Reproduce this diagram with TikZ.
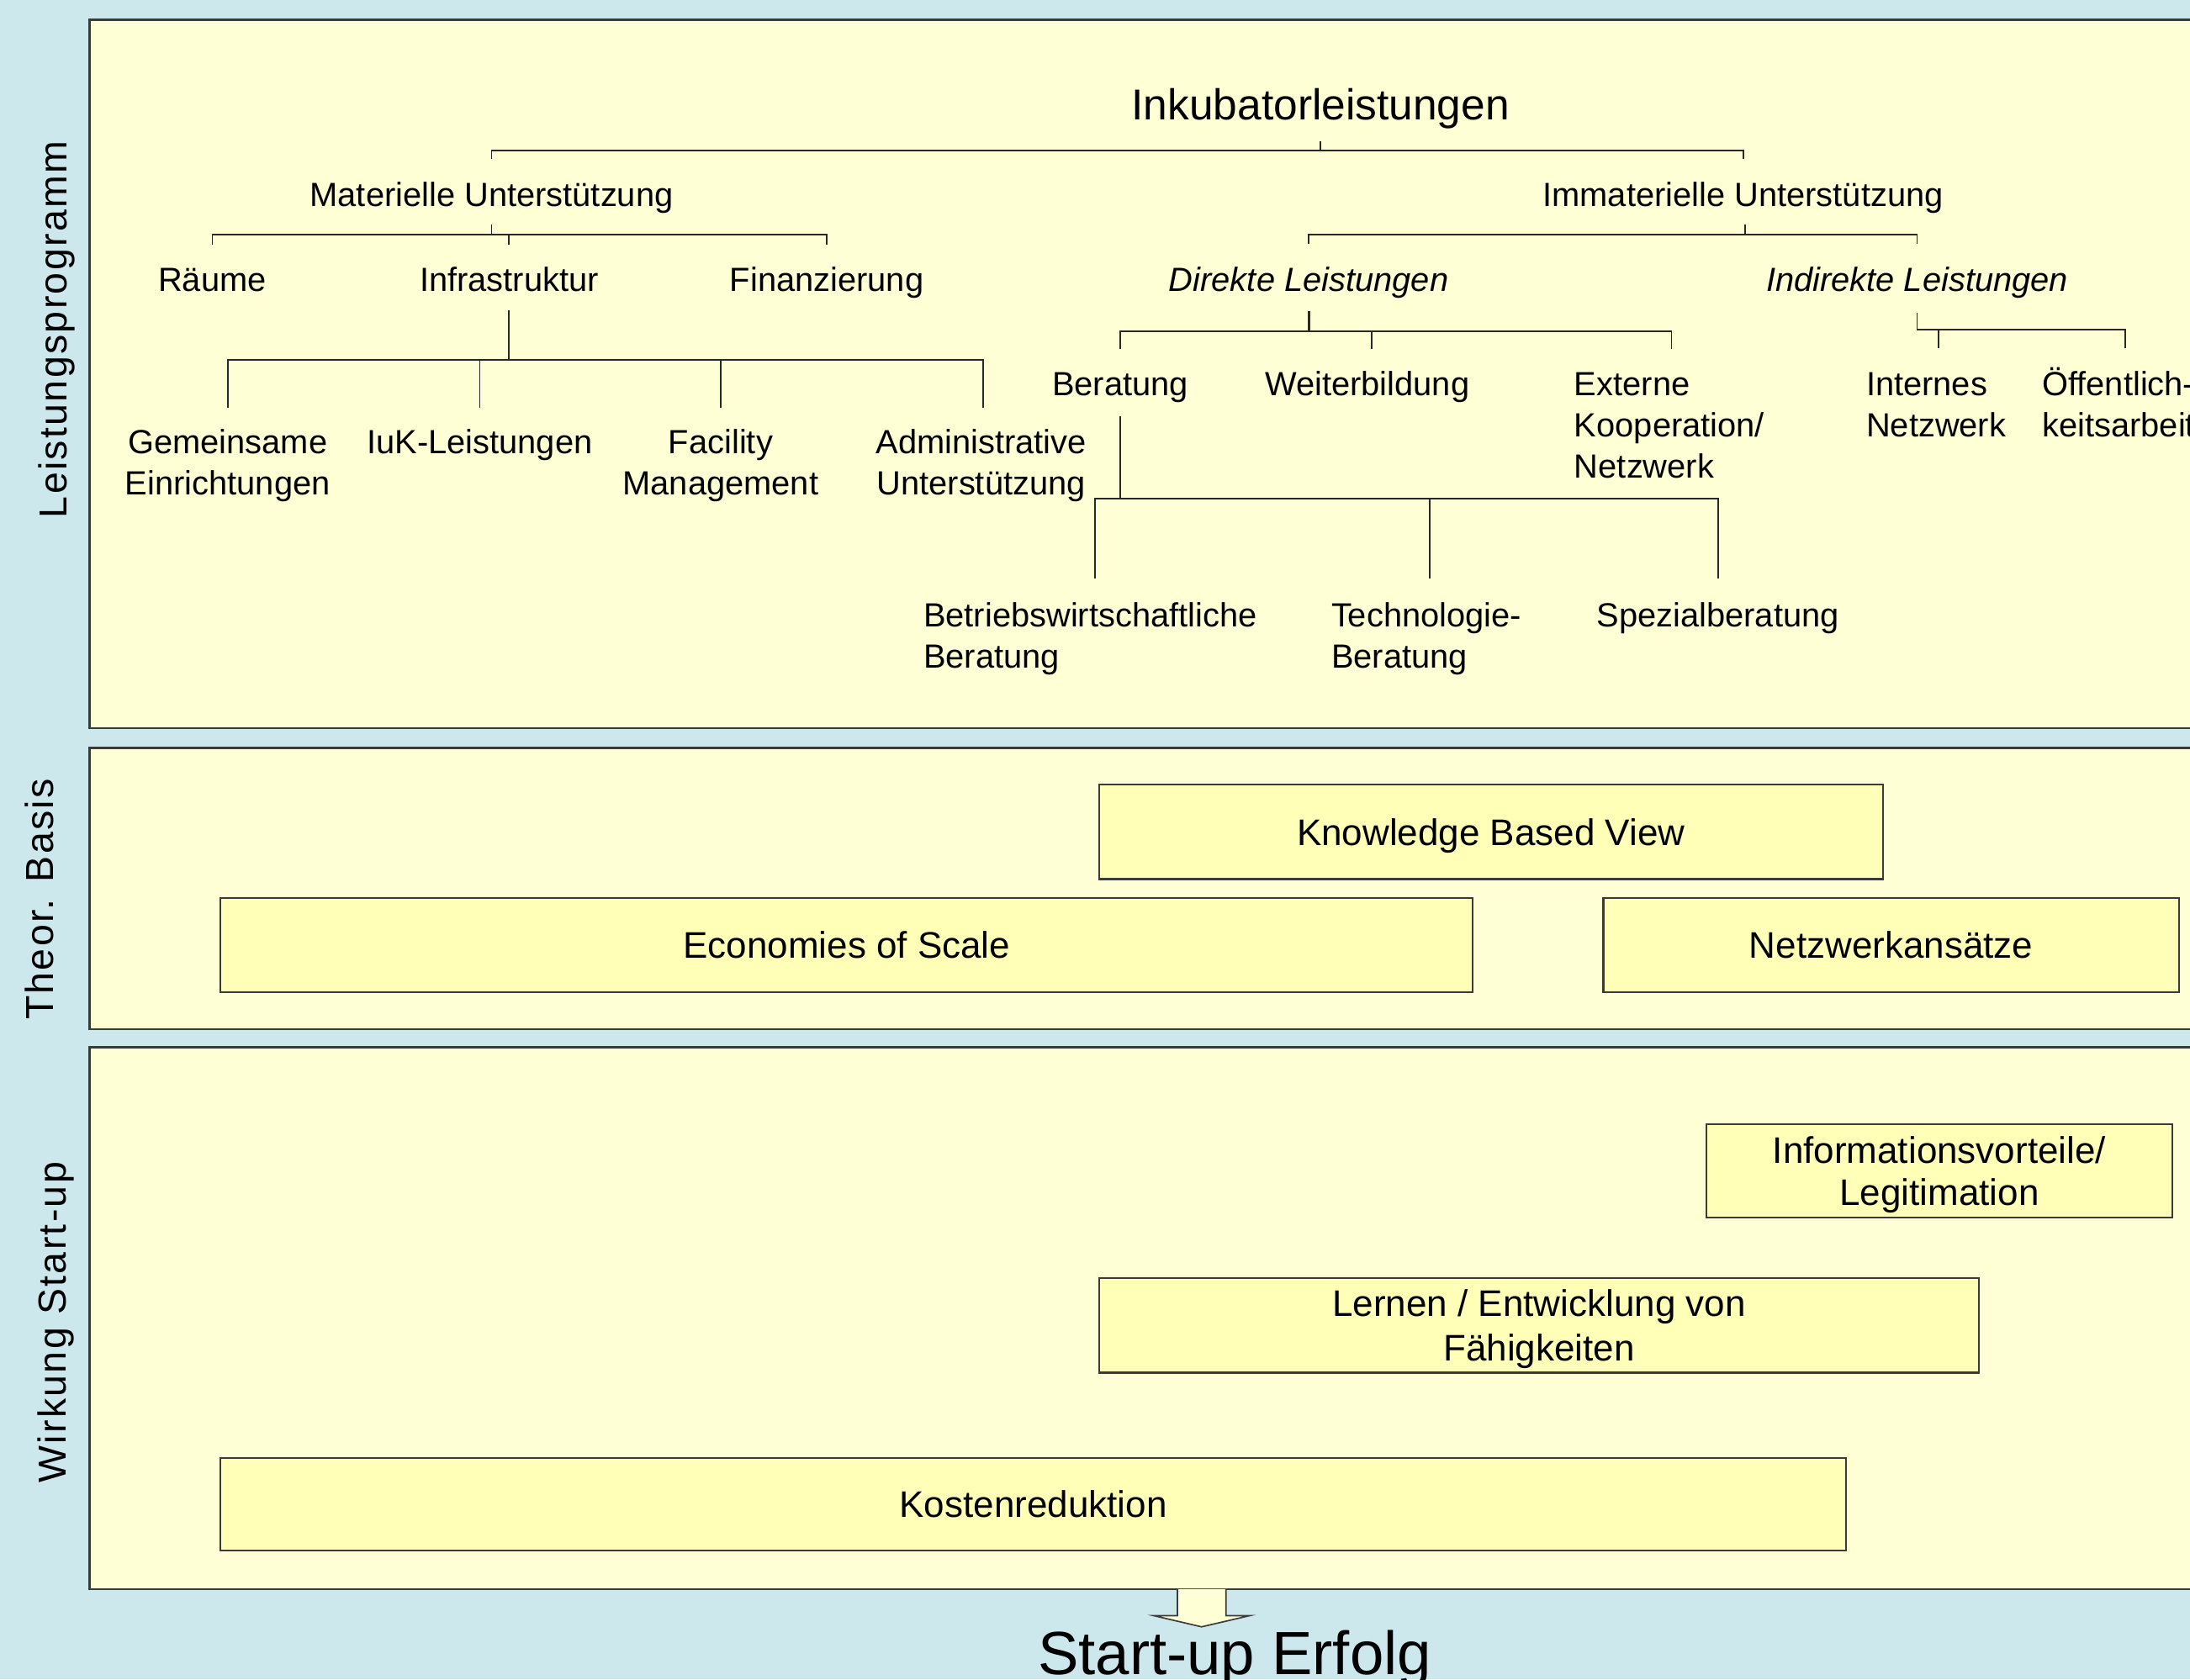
\documentclass[tikz,border=0pt]{standalone}
\usepackage{fontspec}
\setmainfont{Liberation Sans}
\newfontfamily\sidefont[LetterSpace=5]{Liberation Sans}
\definecolor{bgblue}{RGB}{205,232,236}
\definecolor{panelfill}{RGB}{255,255,213}
\definecolor{boxfill}{RGB}{255,255,184}
\definecolor{panelline}{RGB}{58,58,58}
\definecolor{linec}{RGB}{40,40,40}
\begin{document}
\begin{tikzpicture}[x=1pt,y=-1pt,
  lbl/.style={font=\fontsize{24}{29.5}\selectfont, inner sep=0pt, anchor=base},
  lblC/.style={lbl, align=center},
  lblL/.style={lbl, align=left, anchor=base west},
  conn/.style={draw=linec, line width=1.1pt},
  panel/.style={draw=panelline, line width=1.6pt, fill=panelfill},
  box/.style={draw=panelline, line width=1.3pt, fill=boxfill, inner sep=0pt,
    font=\fontsize{26.5}{31}\selectfont, align=center, text depth=0pt},
  side/.style={rotate=90, anchor=base, inner sep=0pt, font=\sidefont\fontsize{28}{30}\selectfont},
  blockarrow/.style={draw=panelline, line width=1pt, fill=panelfill}
]
\useasboundingbox (0,0) rectangle (1568,1202.5);
\fill[bgblue] (0,0) rectangle (1568,1202.5);

% panels
\path[panel] (64,14) rectangle (1590,521.5);
\path[panel] (64,535.5) rectangle (1590,737);
\path[panel] (64,750) rectangle (1590,1138);

% side labels
\node[side] (lp) at (48,236) {Leistungsprogramm};
\node[side] (tb) at (38,644) {Theor. Basis};
\node[side] (ws) at (47,947) {Wirkung Start-up};

% tree labels (multi-line nodes: base = last line)
\node[lbl, font=\fontsize{31}{36}\selectfont] (ink) at (945.5,86) {Inkubatorleistungen};
\node[lbl] (mat) at (352,148) {Materielle Unterstützung};
\node[lbl] (imm) at (1248,148) {Immaterielle Unterstützung};
\node[lbl] (raeume) at (152,208.6) {Räume};
\node[lbl] (infra) at (364.5,208.6) {Infrastruktur};
\node[lbl] (finanz) at (592,208.6) {Finanzierung};
\node[lbl, font=\fontsize{24}{29.5}\selectfont\itshape] (direkt) at (937,208.6) {Direkte Leistungen};
\node[lbl, font=\fontsize{24}{29.5}\selectfont\itshape] (indirekt) at (1372.6,208.6) {Indirekte Leistungen};
\node[lblC] (gemein) at (163,354.1) {Gemeinsame\\Einrichtungen};
\node[lbl] (iuk) at (343.5,324.6) {IuK-Leistungen};
\node[lblC] (facility) at (516,354.1) {Facility\\Management};
\node[lblC] (admin) at (702.5,354.1) {Administrative\\Unterstützung};
\node[lbl] (beratung) at (802,283.6) {Beratung};
\node[lbl] (weiter) at (979,283.6) {Weiterbildung};
\node[lblL] (extern) at (1127,342.6) {Externe\\Kooperation/\\Netzwerk};
\node[lblL] (internes) at (1336,313.1) {Internes\\Netzwerk};
\node[lblL] (oeff) at (1462,313.1) {Öffentlich-\\keitsarbeit};
\node[lblL] (bwl) at (661,478.1) {Betriebswirtschaftliche\\Beratung};
\node[lblL] (tech) at (953,478.1) {Technologie-\\Beratung};
\node[lbl] (spezial) at (1230,448.6) {Spezialberatung};

% tree connectors
\draw[conn] (ink.south |- 0,101) -- (ink.south |- 0,108);
\draw[conn] (mat.north |- 0,114) -- (mat.north |- 0,108) -- (imm.north |- 0,108) -- (imm.north |- 0,114);

\draw[conn] (mat.south |- 0,161) -- (mat.south |- 0,168);
\draw[conn] (raeume.north |- 0,175.5) -- (raeume.north |- 0,168) -- (finanz.north |- 0,168) -- (finanz.north |- 0,175.5);
\draw[conn] (infra.north |- 0,168) -- (infra.north |- 0,175.5);

\draw[conn] (infra.south |- 0,222) -- (infra.south |- 0,257.5);
\draw[conn] (gemein.north |- 0,292) -- (gemein.north |- 0,257.5) -- ([xshift=1.5pt]admin.north |- 0,257.5) -- ([xshift=1.5pt]admin.north |- 0,292);
\draw[conn] (iuk.north |- 0,257.5) -- (iuk.north |- 0,292);
\draw[conn] (facility.north |- 0,257.5) -- (facility.north |- 0,292);

\draw[conn] ([xshift=1.5pt]imm.south |- 0,161) -- ([xshift=1.5pt]imm.south |- 0,168);
\draw[conn] (direkt.north |- 0,174.6) -- (direkt.north |- 0,168) -- (indirekt.north |- 0,168) -- (indirekt.north |- 0,174.6);

\draw[conn, line width=1.8pt] (direkt.south |- 0,223) -- (direkt.south |- 0,237);
\draw[conn] (beratung.north |- 0,249.6) -- (beratung.north |- 0,237) -- ([xshift=1.5pt]extern.north |- 0,237) -- ([xshift=1.5pt]extern.north |- 0,249.6);
\draw[conn] ([xshift=3pt]weiter.north |- 0,237) -- ([xshift=3pt]weiter.north |- 0,249.6);

\draw[conn] (indirekt.south |- 0,224) -- (indirekt.south |- 0,236) -- ([xshift=4.7pt]oeff.north |- 0,236) -- ([xshift=4.7pt]oeff.north |- 0,249);
\draw[conn] ([xshift=1.5pt]internes.north |- 0,236) -- ([xshift=1.5pt]internes.north |- 0,249);

\draw[conn] (beratung.south |- 0,298) -- (beratung.south |- 0,357);
\draw[conn] ([xshift=3.6pt]bwl.north |- 0,414) -- ([xshift=3.6pt]bwl.north |- 0,357) -- (spezial.north |- 0,357) -- (spezial.north |- 0,414);
\draw[conn] ([xshift=2.6pt]tech.north |- 0,357) -- ([xshift=2.6pt]tech.north |- 0,414);

% boxes
\node[box, minimum width=561pt, minimum height=67.5pt] (kbv) at (1067.5,595.75) {Knowledge Based View};
\node[box, minimum width=896.5pt, minimum height=67.5pt] (eos) at (606.25,676.75) {Economies of Scale};
\node[box, minimum width=412pt, minimum height=67.5pt] (netz) at (1354,676.75) {Netzwerkansätze};
\node[box, minimum width=334pt, minimum height=67pt, font=\fontsize{26.5}{30}\selectfont] (info) at (1388.5,838.5) {Informationsvorteile/\\Legitimation};
\node[box, minimum width=630pt, minimum height=68pt, font=\fontsize{26.5}{32}\selectfont] (lernen) at (1102,949) {Lernen / Entwicklung von\\Fähigkeiten};
\node[box, minimum width=1163.5pt, minimum height=66.5pt] (kosten) at (739.75,1077.25) {Kostenreduktion};

% result
\path[blockarrow] (843,1138) -- (843,1157) -- (826,1157) -- (860.3,1165) -- (894.8,1157) -- (877.8,1157) -- (877.8,1138);
\node[lbl, font=\fontsize{43.7}{50}\selectfont] (erfolg) at (884,1199) {Start-up Erfolg};
\end{tikzpicture}
\end{document}
